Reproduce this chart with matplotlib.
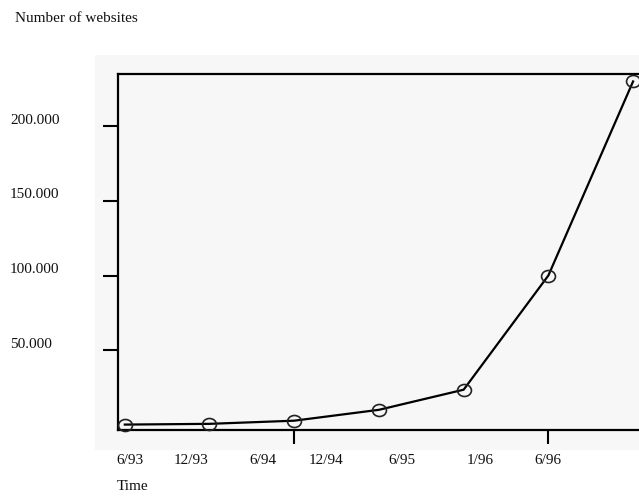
import matplotlib
matplotlib.use("Agg")
import matplotlib.pyplot as plt
from matplotlib.patches import Rectangle
from matplotlib.path import Path
from matplotlib.transforms import blended_transform_factory, Affine2D

# data
periods = ["6/93", "12/93", "6/94", "12/94", "6/95", "1/96", "6/96"]
websites = [130, 623, 2738, 10022, 23500, 100000, 230000]
ytick_values = [50000, 100000, 150000, 200000]
ytick_labels = ["50.000", "100.000", "150.000", "200.000"]

# the time labels sit a bit left of the points in the original
label_pos = [0.06, 0.78, 1.63, 2.38, 3.27, 4.19, 4.99]
xtick_marks = [2, 5]

plt.rcParams['font.family'] = ['Liberation Serif', 'DejaVu Serif']
FS = 11

# slightly flattened circle, like the original markers
ellipse = Path.unit_circle().transformed(Affine2D().scale(1.1, 0.95))

fig = plt.figure(figsize=(6.39, 5.03), dpi=100)
fig.patches.append(Rectangle((95 / 639, 1 - 450 / 503), 544 / 639, 395 / 503,
                             transform=fig.transFigure, facecolor='#f7f7f7',
                             edgecolor='none', zorder=-5))

ax = fig.add_axes([118 / 639, 1 - 430 / 503, 1 - 118 / 639, (430 - 74) / 503])
ax.set_facecolor('#f7f7f7')

x = list(range(len(websites)))
ax.plot(x, websites, color='black', lw=1.6, marker=ellipse, markersize=10,
        markerfacecolor='none', markeredgecolor='#222222', markeredgewidth=1.2,
        clip_on=False, zorder=3)

ax.set_xlim(-0.08, 6.07)
ax.set_ylim(-3500, 235000)

for s in ['left', 'top', 'bottom']:
    ax.spines[s].set_linewidth(1.6)
ax.spines['right'].set_visible(False)

ax.set_yticks(ytick_values)
ax.set_yticklabels([])
ax.tick_params(axis='y', direction='out', length=11, width=1.5)
ylab_tr = blended_transform_factory(fig.transFigure, ax.transData)
for v, lab in zip(ytick_values, ytick_labels):
    ax.text(10 / 639, v + 4000, lab, transform=ylab_tr, fontsize=FS,
            ha='left', va='center', color='#111111')

ax.set_xticks(xtick_marks)
ax.set_xticklabels([])
ax.tick_params(axis='x', direction='out', length=10, width=1.5)
for p, lab in zip(label_pos, periods):
    ax.text(p, -0.087, lab, transform=ax.get_xaxis_transform(), fontsize=FS,
            ha='center', va='center', color='#111111')

fig.text(15 / 639, 1 - 18 / 503, "Number of websites", fontsize=FS,
         ha='left', va='center', color='#111111')
fig.text(117 / 639, 1 - 487 / 503, "Time", fontsize=FS,
         ha='left', va='center', color='#111111')

fig.savefig("out.png", dpi=100)
